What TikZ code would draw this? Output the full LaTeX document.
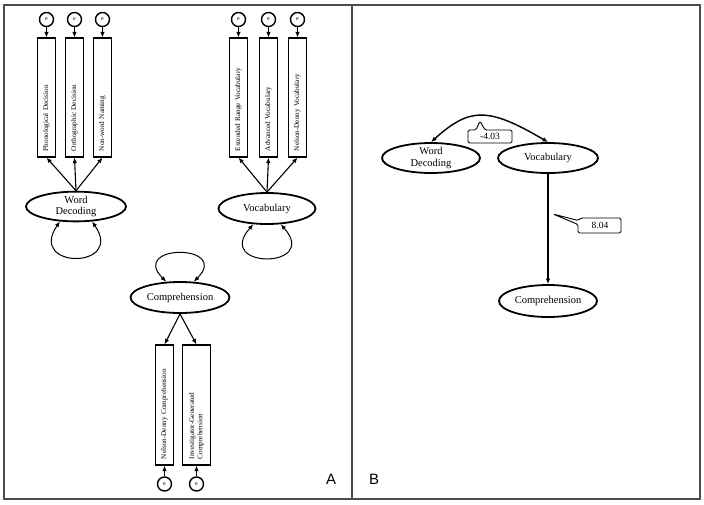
\documentclass[tikz,border=0pt]{standalone}
\usepackage{fontspec}
\setmainfont{Liberation Serif}
\newfontfamily\panelfont{Liberation Sans}
\usetikzlibrary{arrows.meta,shapes.geometric}
\begin{document}
\begin{tikzpicture}[x=1pt,y=-1pt,
  lat/.style={ellipse, draw, line width=1.8pt, inner sep=0pt, align=center, font=\fontsize{10.5}{11.5}\selectfont},
  obs/.style={rectangle, draw, line width=1.1pt, rotate=90, minimum width=119pt, minimum height=18pt, inner xsep=6pt, inner ysep=1pt, text width=107pt, align=left, font=\fontsize{7.2}{8.2}\selectfont},
  err/.style={circle, draw, line width=1.4pt, minimum size=14pt, inner sep=0pt, font=\fontsize{6}{6}\selectfont},
  arr/.style={-{Latex[length=5.5pt,width=4.5pt]}, line width=1.1pt},
  dbl/.style={{Latex[length=5.5pt,width=4.5pt]}-{Latex[length=5.5pt,width=4.5pt]}, line width=1pt},
  frame/.style={draw=black!70, line width=1.3pt},
  callout/.style={draw, line width=0.9pt, rounded corners=1.5pt},
  coef/.style={font=\fontsize{9.5}{10}\selectfont, inner sep=0pt},
  panel/.style={font=\panelfont\fontsize{15}{15}\selectfont, inner sep=0pt}
]
\useasboundingbox (0,0) rectangle (704,504);
\fill[white] (0,0) rectangle (704,504);
\draw[frame] (4,5) rectangle (700,499);
\draw[frame] (352,5) -- (352,499);

% ---------- Panel A ----------
\node[err] (e1) at (46.5,19.5) {e};
\node[err] (e2) at (74.5,19.5) {e};
\node[err] (e3) at (102.5,19.5) {e};
\node[err] (e4) at (238.5,19.5) {e};
\node[err] (e5) at (268.5,19.5) {e};
\node[err] (e6) at (297.5,19.5) {e};

\node[obs] (pd) at (46.5,97.5) {Phonological Decision};
\node[obs] (od) at (74.5,97.5) {Orthographic Decision};
\node[obs] (nn) at (102.5,97.5) {Non-word Naming};
\node[obs] (er) at (238.5,97.5) {Extended Range Vocabulary};
\node[obs] (av) at (268.5,97.5) {Advanced Vocabulary};
\node[obs] (nv) at (297.5,97.5) {Nelson-Denny Vocabulary};

\node[lat, minimum width=100pt, minimum height=27pt] (wd) at (76,206.5) {Word\\Decoding};
\node[lat, minimum width=97pt, minimum height=31pt] (voc) at (267,208.5) {Vocabulary};
\node[lat, minimum width=99pt, minimum height=31pt] (comp) at (180,297.5) {Comprehension};

\node[obs, minimum width=120pt, text width=108pt] (ndc) at (164.5,405) {Nelson-Denny Comprehension};
\node[obs, minimum width=120pt, text width=108pt, minimum height=28pt] (igc) at (196.5,405) {Investigator-Generated\\Comprehension};
\node[err] (e7) at (164.5,484) {e};
\node[err] (e8) at (196.5,484) {e};

\foreach \e/\r in {e1/pd,e2/od,e3/nn,e4/er,e5/av,e6/nv}
  \draw[arr] (\e) -- (\r.east);
\foreach \r in {pd,od,nn}
  \draw[arr] (wd.north) -- (\r.west);
\foreach \r in {er,av,nv}
  \draw[arr] (voc.north) -- (\r.west);
\draw[arr] (comp.south) -- (ndc.east);
\draw[arr] (comp.south) -- (igc.east);
\draw[arr] (e7) -- (ndc.west);
\draw[arr] (e8) -- (igc.west);

\draw[dbl] (wd.223) .. controls +(-33,48) and +(33,48) .. (wd.317);
\draw[dbl] (voc.229) .. controls +(-40,45) and +(40,45) .. (voc.311);
\draw[dbl] (comp.131) .. controls +(-38,-38) and +(38,-38) .. (comp.49);

\node[panel] (pa) at (331,479) {A};

% ---------- Panel B ----------
\node[lat, minimum width=98pt, minimum height=30pt] (wd2) at (431,158) {Word\\Decoding};
\node[lat, minimum width=100pt, minimum height=30pt] (voc2) at (548,158) {Vocabulary};
\node[lat, minimum width=98pt, minimum height=32pt] (comp2) at (548,301) {Comprehension};

\draw[dbl, line width=1.4pt] (wd2.north) .. controls (470,107) and (488,107) .. (voc2.north);
\draw[arr, line width=1.8pt] (voc2) -- (comp2);

\draw[callout] (468,130) -- (476,130) -- (480,121) -- (485,130) -- (512,130) -- (512,143) -- (468,143) -- cycle;
\node[coef] (c1) at (490,136.5) {-4.03};
\draw[callout] (621,218) -- (581,218) -- (578,220.5) -- (553,214) -- (578,224.5) -- (578,233) -- (621,233) -- cycle;
\node[coef] (c2) at (600,225.5) {8.04};

\node[panel] (pb) at (374,479) {B};
\end{tikzpicture}
\end{document}
